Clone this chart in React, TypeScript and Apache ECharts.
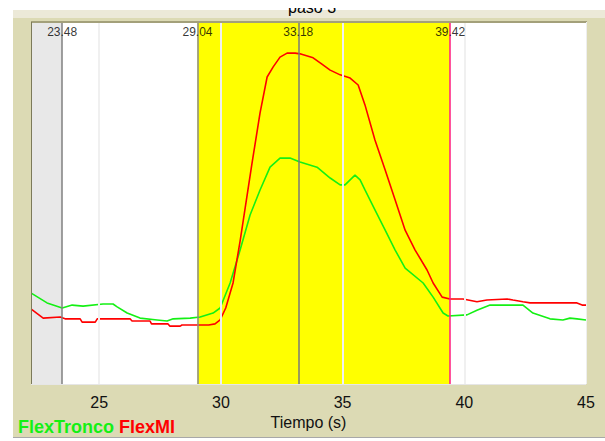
import React, { useEffect, useRef } from "react";
import * as echarts from "echarts";

// ---- data ----
const chartTitle = "paso 3";
const xAxisName = "Tiempo (s)";
const tickValues = [25, 30, 35, 40, 45];
const xRange = [22.2, 45];
const yRange = [0, 100];
const markerTimes = [23.48, 29.04, 33.18, 39.42];
const greyBand = [22.2, 23.48];
const yellowBand = [29.04, 39.42];
const seriesNames = ["FlexTronco", "FlexMI"];

const flexTronco: [number, number][] = [
  [22.21, 25.1], [22.86, 22.4], [23.48, 21.0], [23.89, 21.8], [24.34, 21.5], [25.16, 22.1],
  [25.57, 22.1], [25.74, 21.3], [26.15, 19.6], [26.68, 18.2], [27.38, 17.7], [27.79, 17.4],
  [28.04, 18.0], [28.74, 18.2], [29.15, 18.5], [29.68, 19.6], [29.97, 21.0], [30.38, 27.9],
  [30.79, 37.0], [31.2, 46.7], [31.61, 53.6], [32.02, 59.9], [32.43, 62.4], [32.84, 62.4],
  [33.25, 61.3], [33.95, 59.9], [34.49, 56.9], [34.9, 55.0], [35.1, 55.0], [35.31, 56.4],
  [35.51, 57.7], [35.72, 56.4], [35.92, 53.6], [36.33, 48.1], [36.75, 42.5], [37.16, 37.0],
  [37.57, 32.0], [38.31, 27.9], [38.72, 24.0], [39.13, 19.6], [39.33, 18.8], [40.11, 19.1],
  [40.52, 20.4], [41.06, 21.8], [41.47, 21.8], [42.41, 21.8], [42.82, 19.6], [43.52, 18.0],
  [44.05, 17.7], [44.34, 18.2], [44.63, 18.0], [45.0, 17.7],
];

const flexMI: [number, number][] = [
  [22.21, 20.7], [22.7, 18.2], [23.4, 18.5], [23.6, 18.0], [24.22, 18.0], [24.3, 17.1],
  [24.84, 17.1], [24.92, 18.0], [26.27, 18.0], [26.35, 17.4], [27.09, 17.4], [27.15, 16.6],
  [27.83, 16.6], [27.9, 16.0], [28.33, 16.0], [28.4, 16.3], [29.5, 16.3], [29.76, 16.6],
  [29.97, 17.7], [30.2, 21.0], [30.5, 27.9], [30.79, 39.5], [31.28, 61.0], [31.61, 74.9],
  [31.9, 84.8], [32.15, 87.6], [32.43, 90.3], [32.72, 91.4], [33.05, 91.4], [33.25, 91.2],
  [33.79, 90.1], [34.08, 88.7], [34.49, 86.7], [34.9, 85.4], [35.31, 84.5], [35.64, 82.6],
  [35.92, 77.1], [36.33, 67.4], [36.75, 59.1], [37.16, 50.8], [37.57, 42.5], [37.98, 37.0],
  [38.47, 31.5], [38.72, 27.9], [39.09, 24.0], [39.41, 23.5], [39.95, 23.5], [40.52, 22.7],
  [40.93, 23.2], [41.76, 23.5], [42.0, 23.2], [42.41, 22.7], [42.7, 22.4], [43.4, 22.4],
  [44.63, 22.4], [44.84, 21.8], [45.0, 21.8],
];

// ---- styles / layout ----
const W = 605;
const H = 433;
const G = { left: 31, right: 19, top: 14, bottom: 57 };
const markerColors = ["#808080", "#8a8a8a", "#7a7a7a", "#ff1a8c"];
const seriesColors = ["#14f014", "#ff0000"];
const FONT = "Liberation Sans";

export default function App() {
  const ref = useRef<HTMLDivElement>(null);

  useEffect(() => {
    if (!ref.current) return;
    const chart = echarts.init(ref.current, undefined, { renderer: "svg" });
    const plotW = W - G.left - G.right;
    const plotH = H - G.top - G.bottom;

    const markLineData: any[] = [];
    tickValues.slice(0, -1).forEach((t) => {
      markLineData.push({ xAxis: t, lineStyle: { color: "#f0f0f0", width: 2, type: "solid" } });
    });
    markerTimes.forEach((t, i) => {
      markLineData.push({ xAxis: t, lineStyle: { color: markerColors[i], width: 1.5, type: "solid" } });
    });

    chart.setOption({
      animation: false,
      title: {
        text: chartTitle,
        left: 283,
        top: -14,
        z: 10,
        textStyle: { fontFamily: FONT, fontSize: 16, fontWeight: "normal", color: "#000" },
      },
      graphic: [
        { type: "rect", z: -100, shape: { x: 13, y: 2, width: W - 13, height: 427 }, style: { fill: "#dcdab4" } },
        { type: "rect", z: -99, shape: { x: 13, y: 2, width: W - 13, height: 8 }, style: { fill: "#ece9d8" } },
        { type: "line", z: -99, shape: { x1: 13, y1: 429.5, x2: W, y2: 429.5 }, style: { stroke: "#a8a8a8", lineWidth: 1 } },
        { type: "rect", z: -98, shape: { x: G.left, y: G.top, width: plotW, height: plotH }, style: { fill: "#ffffff" } },
        { type: "line", z: 100, shape: { x1: G.left, y1: G.top, x2: G.left + plotW + 1, y2: G.top }, style: { stroke: "#a3a07a", lineWidth: 2 } },
        { type: "line", z: 100, shape: { x1: G.left + 0.5, y1: G.top, x2: G.left + 0.5, y2: G.top + plotH }, style: { stroke: "#7c7a5a", lineWidth: 1 } },
        { type: "line", z: 100, shape: { x1: G.left, y1: G.top + plotH + 0.5, x2: G.left + plotW, y2: G.top + plotH + 0.5 }, style: { stroke: "#e6e6e6", lineWidth: 1 } },
        { type: "line", z: 100, shape: { x1: G.left + plotW + 0.5, y1: G.top, x2: G.left + plotW + 0.5, y2: G.top + plotH }, style: { stroke: "#eeeeee", lineWidth: 1 } },
      ],
      legend: {
        left: 8,
        top: 405,
        itemWidth: 0,
        itemHeight: 0,
        itemGap: 0,
        selectedMode: false,
        icon: "rect",
        data: seriesNames.map((n, i) => ({
          name: n,
          textStyle: { color: seriesColors[i], fontFamily: FONT, fontSize: 18, fontWeight: "bold" },
        })),
      },
      grid: { left: G.left, right: G.right, top: G.top, bottom: G.bottom, containLabel: false },
      xAxis: {
        type: "value",
        min: xRange[0],
        max: xRange[1],
        name: xAxisName,
        nameLocation: "middle",
        nameGap: 25,
        nameTextStyle: { fontFamily: FONT, fontSize: 16, color: "#111" },
        axisLine: { show: false },
        axisTick: { show: false },
        splitLine: { show: false },
        axisLabel: {
          customValues: tickValues,
          margin: 10,
          fontFamily: FONT,
          fontSize: 16,
          color: "#111",
        },
      },
      yAxis: {
        type: "value",
        min: yRange[0],
        max: yRange[1],
        show: false,
        splitLine: { show: false },
      },
      series: [
        {
          name: "bands",
          type: "line",
          data: [],
          z: 1,
          silent: true,
          markArea: {
            silent: true,
            data: [
              [{ xAxis: greyBand[0], itemStyle: { color: "#e8e8e8" } }, { xAxis: greyBand[1] }],
              [{ xAxis: yellowBand[0], itemStyle: { color: "#ffff00" } }, { xAxis: yellowBand[1] }],
            ],
          },
          markLine: {
            silent: true,
            symbol: ["none", "none"],
            label: { show: false },
            data: markLineData,
          },
        },
        {
          name: "markerLabels",
          type: "scatter",
          z: 5,
          symbolSize: 0,
          silent: true,
          data: markerTimes.map((t) => [t, yRange[1]]),
          label: {
            show: true,
            position: "bottom",
            distance: 4,
            formatter: (p: any) => p.value[0].toFixed(2),
            fontFamily: FONT,
            fontSize: 12,
            color: "#000",
          },
        },
        ...[flexTronco, flexMI].map((d, i) => ({
          name: seriesNames[i],
          type: "line",
          z: 3,
          data: d,
          showSymbol: false,
          symbol: "none",
          color: seriesColors[i],
          lineStyle: { color: seriesColors[i], width: 1.6 },
        })),
      ],
    });
    return () => chart.dispose();
  }, []);

  return (
    <div
      style={{ position: "absolute", left: 0, top: 8, width: W, height: H, overflow: "hidden" }}
    >
      <div ref={ref} style={{ width: W, height: H }} />
    </div>
  );
}
